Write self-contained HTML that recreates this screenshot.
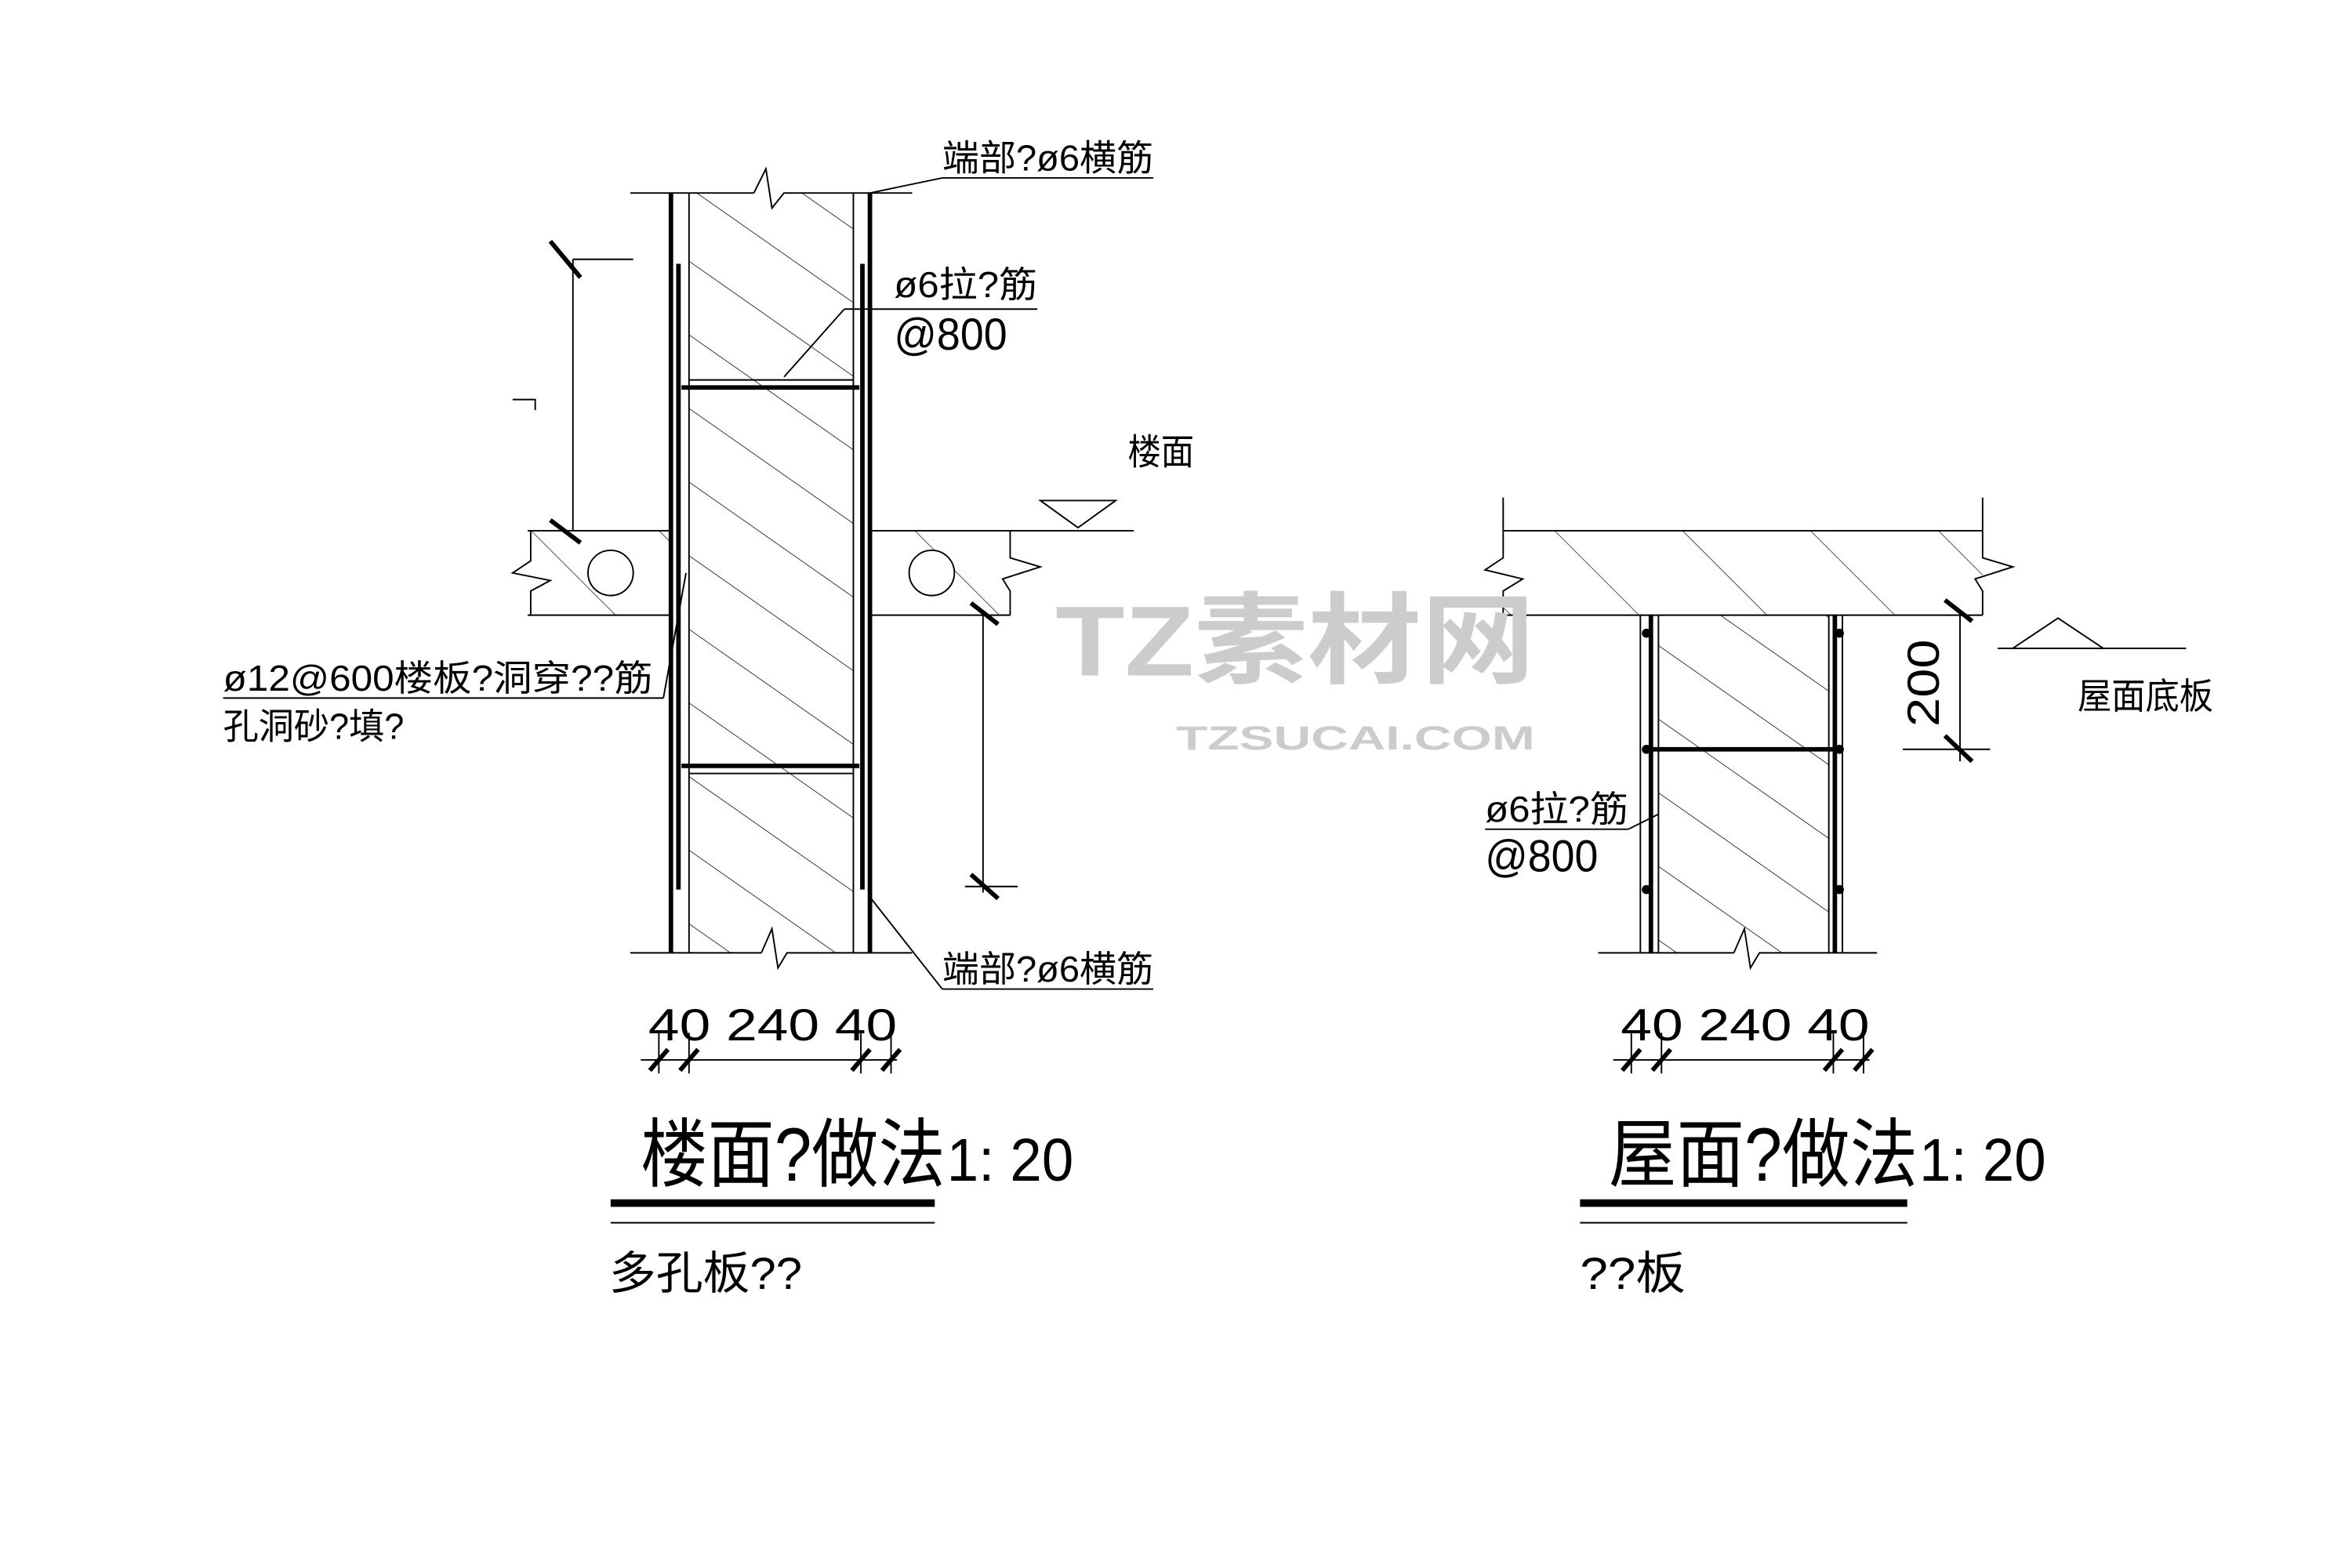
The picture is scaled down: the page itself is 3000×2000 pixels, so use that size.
<!DOCTYPE html>
<html><head><meta charset="utf-8"><style>
html,body{margin:0;padding:0;background:#fff}
svg{display:block}
text{font-family:"Liberation Sans","Noto Sans CJK SC",sans-serif;fill:#000}
</style></head><body>
<svg width="3000" height="2000" viewBox="0 0 1560 1040" xmlns="http://www.w3.org/2000/svg">
<defs>
<pattern id="h" patternUnits="userSpaceOnUse" width="40" height="40" patternTransform="rotate(-55)">
<line x1="0" y1="0" x2="0" y2="40" stroke="#000" stroke-width="0.8"/></pattern>
<pattern id="c" patternUnits="userSpaceOnUse" width="60" height="30" patternTransform="rotate(-45)">
<line x1="0" y1="0" x2="0" y2="30" stroke="#000" stroke-width="0.7"/></pattern>
</defs>
<g stroke="#000" fill="none" stroke-width="1">
<!-- LEFT -->
<rect x="457" y="128" width="109" height="504" fill="url(#h)" stroke="none"/>
<line x1="418" y1="128" x2="500" y2="128"/><polyline points="500,128 508,112 512,138 520,128 605,128"/>
<line x1="418" y1="632" x2="505" y2="632"/><polyline points="505,632 512,616 516,642 522,632 605,632"/>
<line x1="457" y1="128" x2="457" y2="632"/><line x1="566" y1="128" x2="566" y2="632"/>
<line x1="445" y1="128" x2="445" y2="632" stroke-width="3"/><line x1="577" y1="128" x2="577" y2="632" stroke-width="3"/>
<line x1="450" y1="175" x2="450" y2="590" stroke-width="3"/><line x1="572" y1="175" x2="572" y2="590" stroke-width="3"/>
<line x1="452" y1="257" x2="570" y2="257" stroke-width="3"/><line x1="452" y1="508" x2="570" y2="508" stroke-width="3"/>
<line x1="457" y1="252" x2="566" y2="252"/><line x1="457" y1="513" x2="566" y2="513"/>
<rect x="352" y="352" width="93" height="56" fill="url(#c)" stroke="none"/>
<rect x="577" y="352" width="93" height="56" fill="url(#c)" stroke="none"/>
<line x1="350" y1="352" x2="445" y2="352"/><line x1="350" y1="408" x2="445" y2="408"/>
<line x1="577" y1="352" x2="752" y2="352"/><line x1="577" y1="408" x2="670" y2="408"/>
<polyline points="352,352 352,372 340,380 365,385 352,392 352,408"/>
<polyline points="670,352 670,370 690,376 665,384 670,392 670,408"/>
<circle cx="405" cy="380" r="15" fill="#fff"/><circle cx="618" cy="380" r="15" fill="#fff"/>
<polygon points="690,332 740,332 715,350"/>
<line x1="380" y1="172" x2="380" y2="352"/><line x1="380" y1="172" x2="420" y2="172"/>
<line x1="365" y1="160" x2="385" y2="184" stroke-width="3"/><line x1="365" y1="345" x2="385" y2="360" stroke-width="3"/>
<polyline points="340,265 355,265 355,272"/>
<line x1="652" y1="408" x2="652" y2="592"/><line x1="640" y1="588" x2="675" y2="588"/>
<line x1="644" y1="400" x2="662" y2="414" stroke-width="3"/><line x1="644" y1="580" x2="662" y2="596" stroke-width="3"/>
<line x1="577" y1="128" x2="625" y2="118"/><line x1="625" y1="118" x2="765" y2="118"/>
<line x1="520" y1="250" x2="560" y2="205"/><line x1="560" y1="205" x2="688" y2="205"/>
<line x1="577" y1="595" x2="625" y2="656"/><line x1="625" y1="656" x2="765" y2="656"/>
<line x1="455" y1="380" x2="440" y2="463"/><line x1="148" y1="463" x2="440" y2="463"/>
<line x1="425" y1="703" x2="595" y2="703"/>
<line x1="437" y1="685" x2="437" y2="712"/><line x1="457" y1="685" x2="457" y2="712"/>
<line x1="571" y1="685" x2="571" y2="712"/><line x1="591" y1="685" x2="591" y2="712"/>
<g stroke-width="3"><line x1="431" y1="710" x2="443" y2="696"/><line x1="451" y1="710" x2="463" y2="696"/><line x1="565" y1="710" x2="577" y2="696"/><line x1="585" y1="710" x2="597" y2="696"/></g>
<line x1="405" y1="798" x2="620" y2="798" stroke-width="5"/><line x1="405" y1="811" x2="620" y2="811"/>
<!-- RIGHT -->
<rect x="1100" y="408" width="113" height="224" fill="url(#h)" stroke="none"/>
<rect x="997" y="352" width="318" height="56" fill="url(#c)" stroke="none"/>
<line x1="997" y1="352" x2="1315" y2="352"/><line x1="997" y1="408" x2="1315" y2="408"/>
<polyline points="997,330 997,370 985,378 1010,384 997,392 997,408"/>
<polyline points="1315,330 1315,370 1335,376 1310,384 1315,392 1315,408"/>
<line x1="1088" y1="408" x2="1088" y2="632"/><line x1="1222" y1="408" x2="1222" y2="632"/>
<line x1="1100" y1="408" x2="1100" y2="632"/><line x1="1213" y1="408" x2="1213" y2="632"/>
<line x1="1095" y1="408" x2="1095" y2="632" stroke-width="3"/><line x1="1217" y1="408" x2="1217" y2="632" stroke-width="3"/>
<line x1="1095" y1="497" x2="1217" y2="497" stroke-width="3"/>
<line x1="1060" y1="632" x2="1150" y2="632"/><polyline points="1150,632 1157,616 1161,642 1167,632 1245,632"/>
<g fill="#000" stroke="none"><circle cx="1092" cy="420" r="3"/><circle cx="1092" cy="497" r="3"/><circle cx="1092" cy="590" r="3"/><circle cx="1220" cy="420" r="3"/><circle cx="1220" cy="497" r="3"/><circle cx="1220" cy="590" r="3"/></g>
<line x1="1300" y1="408" x2="1300" y2="505"/><line x1="1262" y1="497" x2="1320" y2="497"/>
<line x1="1290" y1="398" x2="1308" y2="412" stroke-width="3"/><line x1="1290" y1="488" x2="1308" y2="505" stroke-width="3"/>
<polygon points="1335,430 1395,430 1365,410"/><line x1="1325" y1="430" x2="1450" y2="430"/>
<line x1="1100" y1="540" x2="1080" y2="550"/><line x1="985" y1="550" x2="1080" y2="550"/>
<line x1="1070" y1="703" x2="1240" y2="703"/>
<line x1="1082" y1="685" x2="1082" y2="712"/><line x1="1102" y1="685" x2="1102" y2="712"/>
<line x1="1216" y1="685" x2="1216" y2="712"/><line x1="1236" y1="685" x2="1236" y2="712"/>
<g stroke-width="3"><line x1="1076" y1="710" x2="1088" y2="696"/><line x1="1096" y1="710" x2="1108" y2="696"/><line x1="1210" y1="710" x2="1222" y2="696"/><line x1="1230" y1="710" x2="1242" y2="696"/></g>
<line x1="1048" y1="798" x2="1265" y2="798" stroke-width="5"/><line x1="1048" y1="811" x2="1265" y2="811"/>
</g>
<g font-size="24" lengthAdjust="spacingAndGlyphs">
<text x="625" y="113" textLength="140" lengthAdjust="spacingAndGlyphs">端部?ø6横筋</text>
<text x="593" y="197" textLength="95" lengthAdjust="spacingAndGlyphs">ø6拉?筋</text><text x="593" y="232" font-size="30" textLength="75" lengthAdjust="spacingAndGlyphs">@800</text>
<text x="748" y="308" textLength="44" lengthAdjust="spacingAndGlyphs">楼面</text>
<text x="148" y="458" textLength="285" lengthAdjust="spacingAndGlyphs">ø12@600楼板?洞穿??筋</text><text x="148" y="490" textLength="120" lengthAdjust="spacingAndGlyphs">孔洞砂?填?</text>
<text x="625" y="651" textLength="140" lengthAdjust="spacingAndGlyphs">端部?ø6横筋</text>
<text x="430" y="690" font-size="30" textLength="165" lengthAdjust="spacingAndGlyphs">40 240 40</text>
<text x="1075" y="690" font-size="30" textLength="165" lengthAdjust="spacingAndGlyphs">40 240 40</text>
<text x="985" y="545" textLength="95" lengthAdjust="spacingAndGlyphs">ø6拉?筋</text><text x="985" y="578" font-size="30" textLength="75" lengthAdjust="spacingAndGlyphs">@800</text>
<text x="1378" y="470" textLength="90" lengthAdjust="spacingAndGlyphs">屋面底板</text>
<text x="1286" y="482" font-size="30" transform="rotate(-90 1286 482)" textLength="58" lengthAdjust="spacingAndGlyphs">200</text>
<text x="404" y="855" font-size="30" textLength="128" lengthAdjust="spacingAndGlyphs">多孔板??</text>
<text x="1048" y="855" font-size="30" textLength="70" lengthAdjust="spacingAndGlyphs">??板</text>
</g>
<text x="425" y="783" font-size="50" textLength="202" lengthAdjust="spacingAndGlyphs">楼面?做法</text><text x="628" y="783" font-size="40" textLength="84" lengthAdjust="spacingAndGlyphs">1: 20</text>
<text x="1067" y="783" font-size="50" textLength="205" lengthAdjust="spacingAndGlyphs">屋面?做法</text><text x="1273" y="783" font-size="40" textLength="84" lengthAdjust="spacingAndGlyphs">1: 20</text>
<text x="700" y="448" font-size="66" font-weight="bold" style="fill:#ccc" textLength="318" lengthAdjust="spacingAndGlyphs">TZ素材网</text>
<text x="780" y="497" font-size="22" font-weight="bold" style="fill:#ccc" textLength="238" lengthAdjust="spacingAndGlyphs">TZSUCAI.COM</text>
</svg>
</body></html>
